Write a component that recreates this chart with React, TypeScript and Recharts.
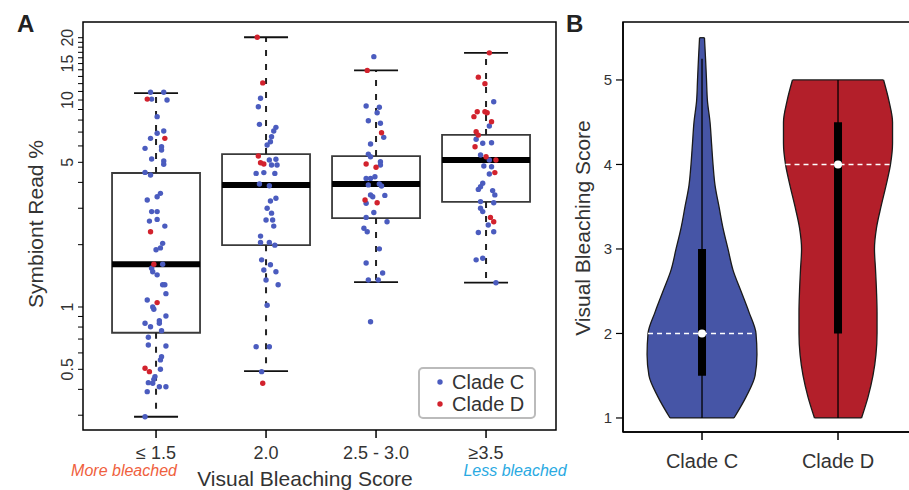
import React from "react";
import {
  ComposedChart,
  Scatter,
  Area,
  XAxis,
  YAxis,
  ReferenceArea,
  ReferenceLine,
  ReferenceDot,
  Legend,
} from "recharts";

const FONT = "'Liberation Sans', Arial, Helvetica, sans-serif";
const BLUE = "#4b5cbf";
const RED = "#d2222d";
const VIOLIN_C = "#4655a6";
const VIOLIN_D = "#b31f2a";
const INK = "#333";

// ---- panel A: symbiont read % by bleaching score ----
const categories = ["≤ 1.5", "2.0", "2.5 - 3.0", "≥3.5"];
const boxLow = [0.295, 0.49, 1.32, 1.31];
const boxQ1 = [0.751, 1.99, 2.69, 3.22];
const boxMedian = [1.61, 3.88, 3.93, 5.13];
const boxQ3 = [4.44, 5.48, 5.36, 6.78];
const boxHigh = [10.8, 20.1, 13.9, 16.9];

const logTicks = [
  0.3, 0.4, 0.5, 0.6, 0.7, 0.8, 0.9, 1, 2, 3, 4, 5, 6, 7, 8, 9, 10, 11, 12,
  13, 14, 15, 16, 17, 18, 19, 20,
];
const labelledTicks = [0.5, 1, 5, 10, 15, 20];

// [jitter, read %, clade]
type Pt = [number, number, "C" | "D"];
const scoreLow: Pt[] = [
  [-0.05, 10.9, "C"], [0.07, 10.9, "C"], [-0.08, 10.1, "D"], [-0.04, 10.1, "C"],
  [0.1, 10.0, "C"], [0.01, 8.31, "C"], [0.07, 7.08, "C"], [0.01, 6.91, "C"],
  [0.08, 6.53, "D"], [-0.05, 6.53, "C"], [-0.1, 5.84, "C"], [0.05, 5.95, "C"],
  [0.05, 5.73, "C"], [-0.04, 5.19, "C"], [0.07, 5.07, "C"], [0.07, 4.89, "C"],
  [-0.1, 4.47, "C"], [-0.05, 4.34, "C"], [0.04, 3.54, "C"], [0.01, 3.41, "C"],
  [-0.08, 3.29, "C"], [-0.04, 2.89, "C"], [0.01, 2.89, "C"], [-0.06, 2.6, "C"],
  [0.01, 2.65, "C"], [0.08, 2.46, "C"], [-0.05, 2.31, "D"], [0.06, 2.03, "C"],
  [0.04, 1.93, "C"], [0.0, 1.89, "C"], [-0.02, 1.61, "D"], [0.06, 1.61, "C"],
  [-0.04, 1.54, "C"], [-0.03, 1.48, "C"], [0.01, 1.43, "C"], [0.06, 1.28, "C"],
  [0.08, 1.28, "C"], [0.09, 1.16, "C"], [-0.08, 1.08, "C"], [0.01, 1.05, "D"],
  [-0.03, 1.0, "C"], [-0.02, 0.975, "C"], [0.09, 0.905, "C"], [0.03, 0.859, "C"],
  [0.03, 0.834, "C"], [-0.1, 0.834, "C"], [-0.05, 0.803, "C"], [0.05, 0.768, "C"],
  [-0.07, 0.714, "C"], [-0.07, 0.655, "C"], [0.09, 0.648, "C"], [0.05, 0.575, "C"],
  [0.04, 0.555, "C"], [-0.1, 0.506, "D"], [-0.06, 0.487, "D"], [0.04, 0.5, "C"],
  [-0.01, 0.461, "C"], [-0.02, 0.447, "C"], [-0.07, 0.431, "C"], [-0.03, 0.428, "C"],
  [0.03, 0.412, "C"], [0.09, 0.412, "C"], [-0.08, 0.39, "C"], [-0.1, 0.295, "C"],
];
const scoreTwo: Pt[] = [
  [-0.08, 20.1, "D"], [-0.03, 12.1, "D"], [-0.05, 10.2, "C"], [-0.07, 9.28, "C"],
  [-0.06, 7.63, "C"], [0.09, 7.38, "C"], [0.07, 7.08, "C"], [0.05, 6.65, "C"],
  [0.04, 6.29, "C"], [0.01, 6.06, "C"], [-0.07, 5.36, "D"], [-0.05, 4.98, "D"],
  [-0.02, 4.91, "D"], [0.03, 5.13, "C"], [0.09, 5.17, "C"], [0.05, 4.85, "C"],
  [0.1, 4.85, "C"], [-0.09, 4.42, "C"], [-0.02, 4.46, "C"], [0.08, 4.42, "C"],
  [-0.06, 3.93, "C"], [0.03, 3.85, "C"], [0.09, 3.35, "C"], [0.04, 3.25, "C"],
  [0.01, 3.0, "C"], [0.05, 2.84, "C"], [0.0, 2.63, "C"], [0.06, 2.63, "C"],
  [0.07, 2.46, "C"], [-0.05, 2.2, "C"], [-0.05, 2.05, "C"], [0.03, 2.05, "C"],
  [0.08, 1.99, "C"], [-0.04, 1.69, "C"], [0.04, 1.6, "C"], [-0.02, 1.51, "C"],
  [0.09, 1.48, "C"], [0.0, 1.35, "C"], [0.11, 1.28, "C"], [0.01, 1.02, "C"],
  [-0.09, 0.643, "C"], [0.03, 0.643, "C"], [-0.04, 0.487, "C"], [-0.03, 0.428, "D"],
];
const scoreMid: Pt[] = [
  [-0.02, 16.2, "C"], [-0.08, 13.9, "D"], [-0.09, 9.35, "C"], [0.03, 9.22, "C"],
  [0.01, 8.68, "C"], [-0.07, 7.94, "C"], [0.04, 7.72, "C"], [0.05, 6.95, "D"],
  [0.07, 6.6, "C"], [-0.05, 6.13, "C"], [-0.07, 5.48, "C"], [-0.05, 5.32, "C"],
  [-0.09, 4.91, "D"], [0.0, 4.73, "D"], [0.04, 5.03, "C"], [0.04, 4.85, "C"],
  [-0.09, 4.18, "C"], [-0.05, 4.18, "C"], [-0.01, 4.26, "C"], [-0.07, 3.89, "C"],
  [0.03, 3.93, "C"], [0.05, 3.84, "C"], [-0.05, 3.48, "C"], [-0.03, 3.41, "C"],
  [-0.1, 3.29, "D"], [0.01, 3.19, "D"], [0.08, 3.46, "C"], [-0.09, 3.17, "C"],
  [-0.02, 2.86, "C"], [-0.09, 2.71, "C"], [0.1, 2.58, "C"], [-0.11, 2.4, "C"],
  [-0.08, 2.31, "C"], [0.03, 1.91, "C"], [-0.09, 1.63, "C"], [0.06, 1.46, "C"],
  [-0.07, 1.35, "C"], [0.02, 1.35, "C"], [-0.05, 0.849, "C"],
];
const scoreHigh: Pt[] = [
  [0.03, 16.9, "D"], [-0.07, 12.9, "D"], [-0.01, 12.0, "D"], [0.07, 9.81, "C"],
  [-0.08, 8.78, "D"], [-0.11, 8.31, "D"], [0.01, 8.68, "D"], [-0.01, 8.78, "D"],
  [0.05, 7.86, "D"], [0.03, 7.49, "C"], [-0.09, 7.03, "D"], [-0.07, 6.77, "D"],
  [-0.09, 6.46, "C"], [-0.03, 6.18, "C"], [0.05, 6.22, "C"], [-0.1, 5.95, "D"],
  [-0.05, 5.42, "C"], [0.0, 5.32, "D"], [0.03, 5.13, "C"], [0.09, 5.13, "D"],
  [-0.02, 4.8, "C"], [0.05, 4.76, "C"], [0.03, 4.39, "C"], [0.08, 4.46, "D"],
  [-0.03, 3.96, "C"], [-0.05, 3.81, "C"], [-0.07, 3.7, "C"], [0.06, 3.65, "C"],
  [0.08, 3.48, "C"], [-0.05, 3.23, "C"], [-0.05, 3.0, "C"], [-0.03, 2.89, "C"],
  [0.07, 3.19, "C"], [0.04, 2.71, "D"], [0.07, 2.58, "D"], [0.02, 2.49, "C"],
  [-0.07, 2.29, "C"], [0.07, 2.31, "C"], [-0.09, 1.69, "C"], [-0.03, 1.72, "C"],
  [0.09, 1.31, "C"],
];

// ---- panel B: bleaching score by clade (violins) ----
const cladeNames = ["Clade C", "Clade D"];
const cladeCScores = [
  1, 1.25, 1.5, 1.75, 2, 2.25, 2.5, 2.75, 3, 3.25, 3.5, 3.75, 4, 4.25, 4.5,
  4.75, 5, 5.25, 5.5,
];
const cladeCHalf = [
  0.235, 0.324, 0.39, 0.404, 0.397, 0.346, 0.287, 0.228, 0.191, 0.154, 0.125,
  0.096, 0.081, 0.07, 0.059, 0.04, 0.033, 0.026, 0.018,
];
const cladeDScores = [
  1, 1.25, 1.5, 1.75, 2, 2.25, 2.5, 2.75, 3, 3.25, 3.5, 3.75, 4, 4.25, 4.5,
  4.75, 5,
];
const cladeDHalf = [
  0.173, 0.221, 0.257, 0.279, 0.287, 0.287, 0.283, 0.276, 0.268, 0.283, 0.316,
  0.353, 0.386, 0.401, 0.401, 0.375, 0.335,
];
const violinMin = [1, 1];
const violinQ1 = [1.5, 2];
const violinMedian = [2, 4];
const violinQ3 = [3, 4.5];
const violinMax = [5.25, 5];

const xDomainA: [number, number] = [0.336, 4.636];
const yDomainA: [number, number] = [0.2545, 23.82];
const xDomainB: [number, number] = [0.419, 2.522];
const yDomainB: [number, number] = [0.834, 5.686];

const groups = [scoreLow, scoreTwo, scoreMid, scoreHigh];
const allPoints = groups.flatMap((g, i) =>
  g.map(([j, v, c]) => ({ x: i + 1 + j, y: v, clade: c }))
);
const cladeCPoints = allPoints.filter((p) => p.clade === "C");
const cladeDPoints = allPoints.filter((p) => p.clade === "D");

const violins = [
  { scores: cladeCScores, half: cladeCHalf, fill: VIOLIN_C },
  { scores: cladeDScores, half: cladeDHalf, fill: VIOLIN_D },
];
const violinRows = violins.map((v, i) =>
  v.scores.map((s, k) => ({ s, w: [i + 1 - v.half[k], i + 1 + v.half[k]] }))
);
const halfAt = (i: number, s: number) =>
  violins[i].half[violins[i].scores.indexOf(s)] ?? 0;

const dot = (color: string) => (p: any) =>
  <circle cx={p.cx} cy={p.cy} r={2.7} fill={color} />;

const LogTick = (props: any) => {
  const { x, y, payload } = props;
  if (!labelledTicks.includes(payload.value)) return null;
  const bx = x - 5;
  return (
    <text
      x={bx}
      y={y}
      transform={`rotate(-90, ${bx}, ${y})`}
      textAnchor="middle"
      fontSize={16}
      fill={INK}
      fontFamily={FONT}
    >
      {payload.value}
    </text>
  );
};

const CatTick = (props: any) => {
  const { x, y, payload } = props;
  return (
    <text x={x} y={y + 19} textAnchor="middle" fontSize={18} fill={INK} fontFamily={FONT}>
      {categories[payload.value - 1]}
    </text>
  );
};

const CladeTick = (props: any) => {
  const { x, y, payload } = props;
  return (
    <text x={x} y={y + 26} textAnchor="middle" fontSize={20} fill={INK} fontFamily={FONT}>
      {cladeNames[payload.value - 1]}
    </text>
  );
};

const legendItems = [
  { name: "Clade C", color: BLUE },
  { name: "Clade D", color: RED },
];

const renderLegend = () => (
  <svg width={118} height={52}>
    <rect x={1} y={1} width={116} height={50} rx={4} fill="#fff" stroke="#bbb" strokeWidth={2} />
    {legendItems.map((it, i) => (
      <g key={it.name}>
        <circle cx={22} cy={15 + i * 22} r={2.7} fill={it.color} />
        <text x={34} y={22 + i * 22} fontSize={20} fill={INK} fontFamily={FONT}>
          {it.name}
        </text>
      </g>
    ))}
  </svg>
);

export default function App() {
  return (
    <div style={{ position: "absolute", left: 0, top: 0, width: 909, height: 490, background: "#fff", fontFamily: FONT }}>
      <div style={{ position: "absolute", left: 0, top: 0 }}>
        <ComposedChart width={560} height={490} margin={{ top: 22, right: 4, bottom: 0, left: 0 }}>
          <XAxis
            type="number"
            dataKey="x"
            domain={xDomainA}
            allowDataOverflow
            ticks={[1, 2, 3, 4]}
            interval={0}
            axisLine={false}
            tickLine={{ stroke: "#000", strokeWidth: 1.5 }}
            tickSize={8}
            tickMargin={2}
            height={60}
            tick={<CatTick />}
          />
          <YAxis
            type="number"
            dataKey="y"
            scale="log"
            domain={yDomainA}
            allowDataOverflow
            ticks={logTicks}
            interval={0}
            axisLine={false}
            tickLine={{ stroke: "#000", strokeWidth: 1 }}
            tickSize={5}
            tickMargin={0}
            width={83}
            tick={<LogTick />}
          />
          <ReferenceArea
            x1={xDomainA[0]}
            x2={xDomainA[1]}
            y1={yDomainA[0]}
            y2={yDomainA[1]}
            fill="none"
            stroke="#000"
            strokeWidth={1.5}
            ifOverflow="visible"
          />
          {categories.map((c, i) => (
            <ReferenceArea
              key={`box-${c}`}
              x1={i + 1 - 0.4}
              x2={i + 1 + 0.4}
              y1={boxQ1[i]}
              y2={boxQ3[i]}
              fill="none"
              fillOpacity={0}
              stroke="#3a3a3a"
              strokeWidth={1.8}
              ifOverflow="visible"
            />
          ))}
          {categories.map((c, i) => (
            <ReferenceLine
              key={`wu-${c}`}
              segment={[{ x: i + 1, y: boxQ3[i] }, { x: i + 1, y: boxHigh[i] }]}
              stroke="#222"
              strokeWidth={2}
              strokeDasharray="6 8"
            />
          ))}
          {categories.map((c, i) => (
            <ReferenceLine
              key={`wl-${c}`}
              segment={[{ x: i + 1, y: boxQ1[i] }, { x: i + 1, y: boxLow[i] }]}
              stroke="#222"
              strokeWidth={2}
              strokeDasharray="6 8"
            />
          ))}
          {categories.map((c, i) => (
            <ReferenceLine
              key={`ch-${c}`}
              segment={[{ x: i + 1 - 0.2, y: boxHigh[i] }, { x: i + 1 + 0.2, y: boxHigh[i] }]}
              stroke="#111"
              strokeWidth={1.8}
            />
          ))}
          {categories.map((c, i) => (
            <ReferenceLine
              key={`cl-${c}`}
              segment={[{ x: i + 1 - 0.2, y: boxLow[i] }, { x: i + 1 + 0.2, y: boxLow[i] }]}
              stroke="#111"
              strokeWidth={1.8}
            />
          ))}
          {categories.map((c, i) => (
            <ReferenceLine
              key={`med-${c}`}
              segment={[{ x: i + 1 - 0.4, y: boxMedian[i] }, { x: i + 1 + 0.4, y: boxMedian[i] }]}
              stroke="#000"
              strokeWidth={6}
            />
          ))}
          <Scatter name="Clade C" data={cladeCPoints} fill={BLUE} shape={dot(BLUE)} isAnimationActive={false} />
          <Scatter name="Clade D" data={cladeDPoints} fill={RED} shape={dot(RED)} isAnimationActive={false} />
          <Legend
            layout="vertical"
            align="center"
            verticalAlign="middle"
            content={renderLegend}
            wrapperStyle={{ left: 418, top: 367, width: 118, height: 52 }}
          />
        </ComposedChart>
      </div>

      <div style={{ position: "absolute", left: 560, top: 0 }}>
        <ComposedChart
          layout="vertical"
          width={349}
          height={490}
          margin={{ top: 22, right: 0, bottom: 0, left: 0 }}
        >
          <XAxis
            type="number"
            domain={xDomainB}
            allowDataOverflow
            ticks={[1, 2]}
            interval={0}
            axisLine={{ stroke: "#000", strokeWidth: 1.5 }}
            tickLine={{ stroke: "#000", strokeWidth: 1.5 }}
            tickSize={8}
            tickMargin={2}
            height={58}
            tick={<CladeTick />}
          />
          <YAxis
            type="number"
            dataKey="s"
            domain={yDomainB}
            allowDataOverflow
            reversed
            ticks={[1, 2, 3, 4, 5]}
            interval={0}
            axisLine={{ stroke: "#000", strokeWidth: 1.5 }}
            tickLine={{ stroke: "#000", strokeWidth: 1.2 }}
            tickSize={7}
            tickMargin={4}
            width={63}
            tick={{ fontSize: 15, fill: INK, fontFamily: FONT }}
          />
          <ReferenceArea
            x1={xDomainB[0]}
            x2={2.7}
            y1={yDomainB[0]}
            y2={yDomainB[1]}
            fill="none"
            stroke="#000"
            strokeWidth={1.5}
            ifOverflow="visible"
          />
          {violins.map((v, i) => (
            <Area
              key={`violin-${cladeNames[i]}`}
              data={violinRows[i]}
              dataKey="w"
              type="monotone"
              fill={v.fill}
              fillOpacity={1}
              stroke="#1a1a1a"
              strokeWidth={1.3}
              dot={false}
              activeDot={false}
              isAnimationActive={false}
            />
          ))}
          {violins.map((v, i) => {
            const last = v.scores.length - 1;
            return (
              <React.Fragment key={`ends-${cladeNames[i]}`}>
                <ReferenceLine
                  segment={[{ x: i + 1 - v.half[0], y: v.scores[0] }, { x: i + 1 + v.half[0], y: v.scores[0] }]}
                  stroke="#1a1a1a"
                  strokeWidth={1.3}
                />
                <ReferenceLine
                  segment={[{ x: i + 1 - v.half[last], y: v.scores[last] }, { x: i + 1 + v.half[last], y: v.scores[last] }]}
                  stroke="#1a1a1a"
                  strokeWidth={1.3}
                />
                <ReferenceLine
                  segment={[{ x: i + 1, y: violinMin[i] }, { x: i + 1, y: violinMax[i] }]}
                  stroke="#000"
                  strokeWidth={1.3}
                />
                <ReferenceLine
                  segment={[{ x: i + 1, y: violinQ1[i] }, { x: i + 1, y: violinQ3[i] }]}
                  stroke="#000"
                  strokeWidth={8}
                />
                <ReferenceLine
                  segment={[
                    { x: i + 1 - halfAt(i, violinMedian[i]), y: violinMedian[i] },
                    { x: i + 1 + halfAt(i, violinMedian[i]), y: violinMedian[i] },
                  ]}
                  stroke="#fff"
                  strokeWidth={1.5}
                  strokeDasharray="5 4"
                />
                <ReferenceDot x={i + 1} y={violinMedian[i]} r={4} fill="#fff" stroke="none" />
              </React.Fragment>
            );
          })}
        </ComposedChart>
      </div>

      <svg width={909} height={490} style={{ position: "absolute", left: 0, top: 0, pointerEvents: "none" }}>
        <text x={17} y={32} fontSize={24} fontWeight="bold" fill="#222" fontFamily={FONT}>A</text>
        <text x={566} y={32} fontSize={24} fontWeight="bold" fill="#222" fontFamily={FONT}>B</text>
        <text x={43} y={224} transform="rotate(-90, 43, 224)" textAnchor="middle" fontSize={21} fill={INK} fontFamily={FONT}>
          Symbiont Read %
        </text>
        <text x={305} y={486} textAnchor="middle" fontSize={21} fill={INK} fontFamily={FONT}>
          Visual Bleaching Score
        </text>
        <text x={124} y={476} textAnchor="middle" fontSize={16} fontStyle="italic" fill="#ef5f40" fontFamily={FONT}>
          More bleached
        </text>
        <text x={515} y={476} textAnchor="middle" fontSize={16} fontStyle="italic" fill="#2aaae2" fontFamily={FONT}>
          Less bleached
        </text>
        <text x={590} y={228} transform="rotate(-90, 590, 228)" textAnchor="middle" fontSize={21} fill={INK} fontFamily={FONT}>
          Visual Bleaching Score
        </text>
      </svg>
    </div>
  );
}
